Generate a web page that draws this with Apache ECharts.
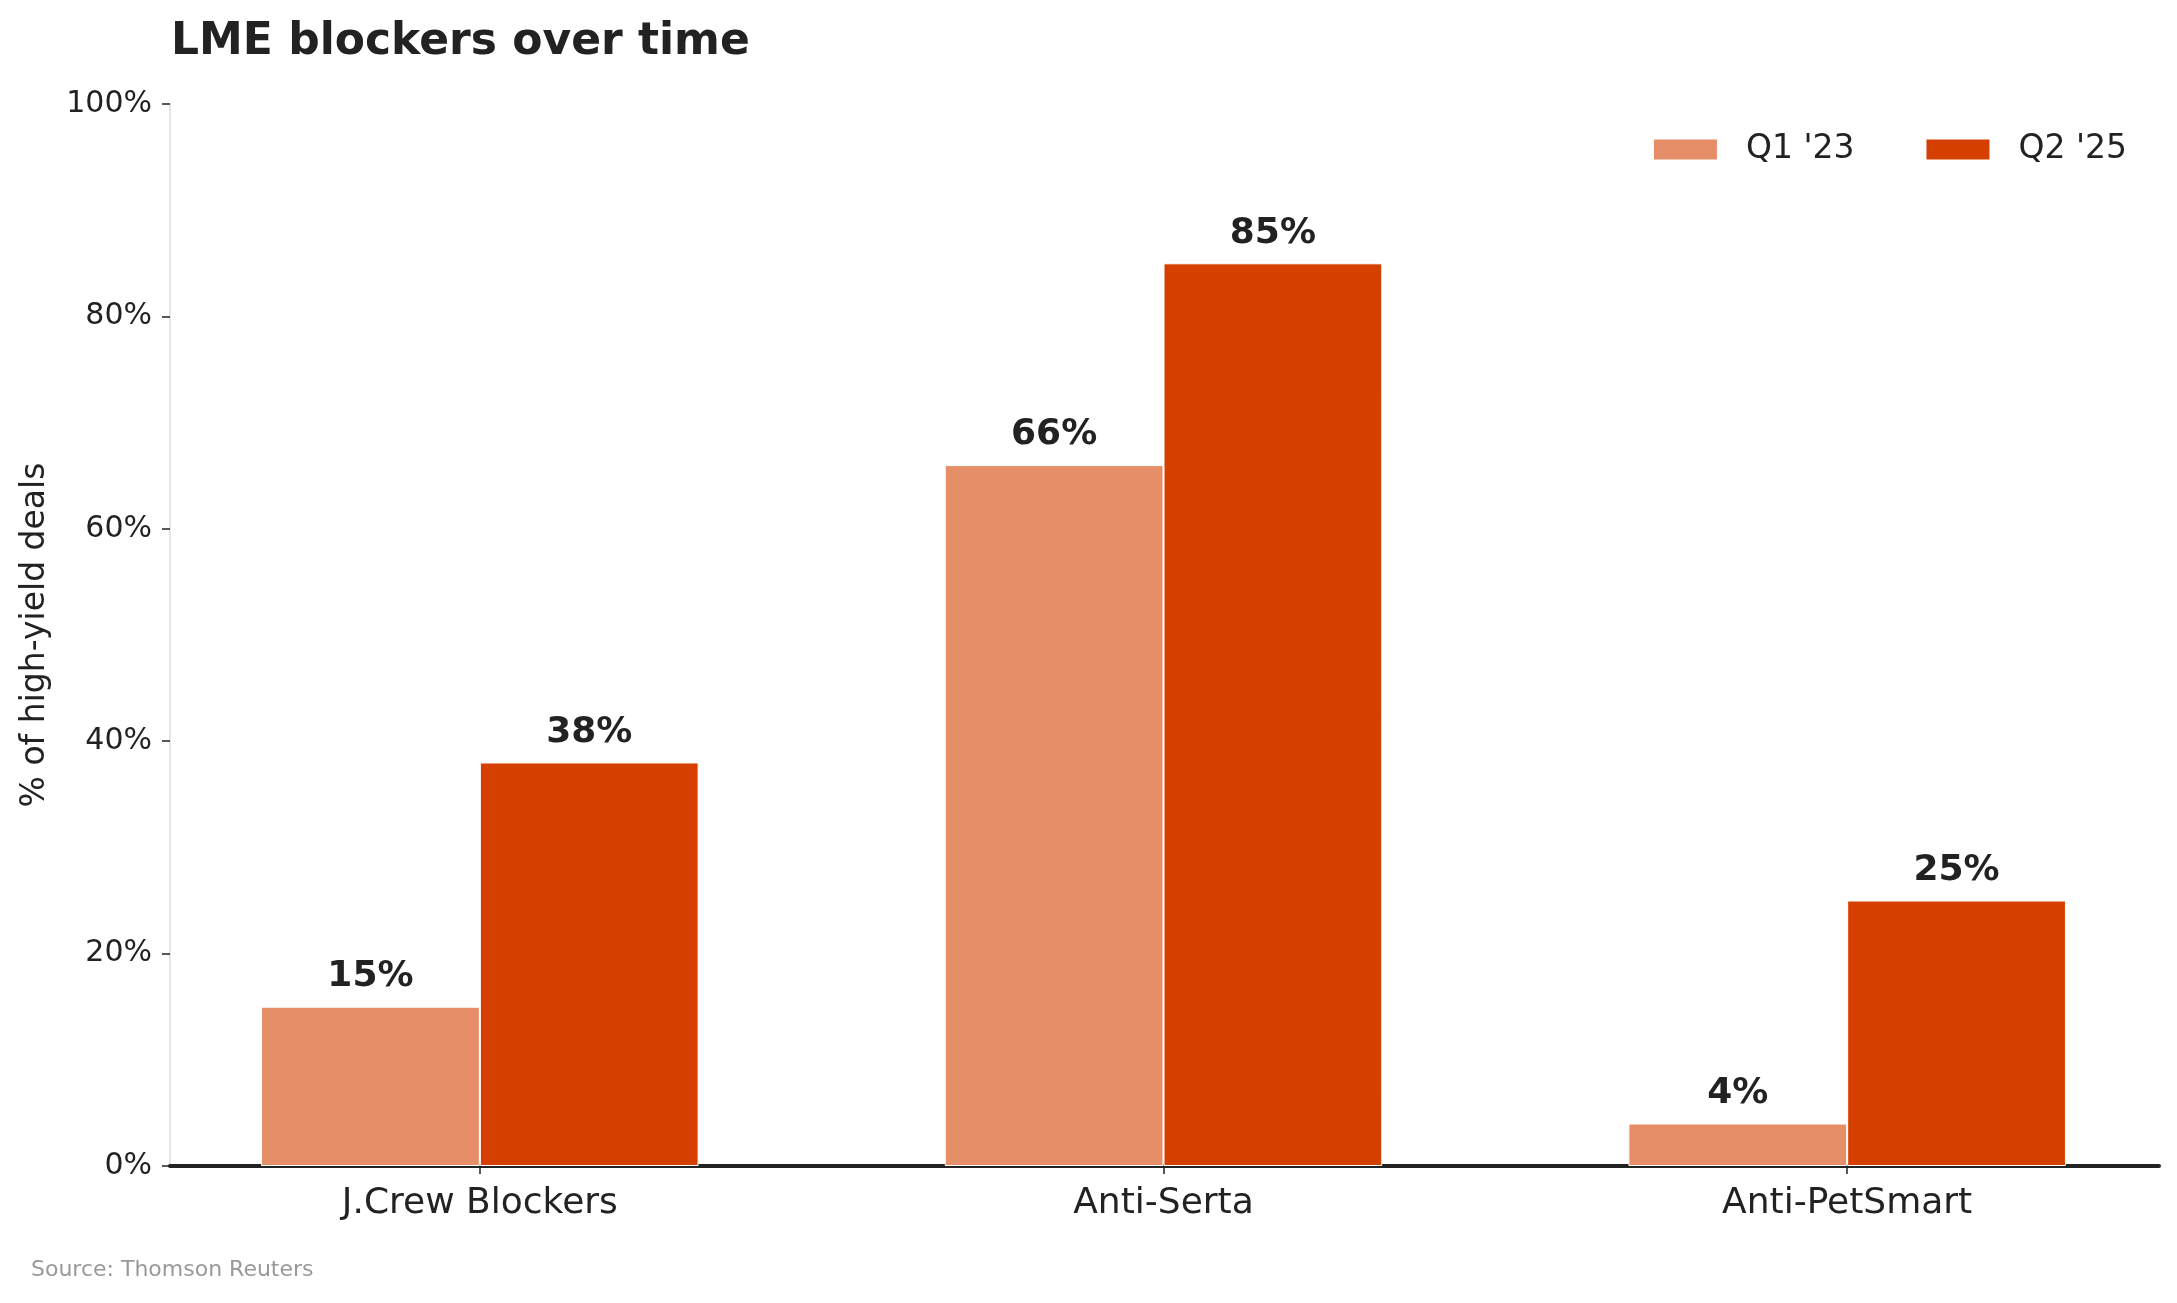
<!DOCTYPE html>
<html>
<head>
<meta charset="utf-8">
<script src="https://cdn.jsdelivr.net/npm/echarts@6/dist/echarts.min.js"></script>
<style>
  html, body { margin: 0; padding: 0; background: #fff; }
  #chart { width: 2177px; height: 1303px; }
</style>
</head>
<body>
<div id="chart"></div>
<script>
const categories = ['J.Crew Blockers', 'Anti-Serta', 'Anti-PetSmart']
const q1Values = [15, 66, 4]
const q2Values = [38, 85, 25]
const seriesNames = ["Q1 '23", "Q2 '25"]
const yTicks = [0, 20, 40, 60, 80, 100]

const font = 'DejaVu Sans'
const ink = '#222222'

const chart = echarts.init(document.getElementById('chart'))

// bars live in grid 0 (wider, so the category bands line up with the reference),
// the visible axes live in grid 1
const labelStyle = {
  show: true,
  position: 'top',
  distance: 12,
  formatter: '{c}%',
  fontFamily: font,
  fontSize: 36,
  fontWeight: 'bold',
  color: ink
}

const option = {
  backgroundColor: '#ffffff',
  animation: false,
  title: {
    text: 'LME blockers over time',
    left: 171,
    top: 21,
    padding: 0,
    textStyle: { fontFamily: font, fontSize: 44, fontWeight: 'bold', color: ink }
  },
  legend: {
    data: seriesNames,
    right: 45,
    top: 128,
    icon: 'rect',
    itemWidth: 65,
    itemHeight: 22,
    itemGap: 70,
    textStyle: { fontFamily: font, fontSize: 33, color: ink, padding: [0, 0, 0, 23] }
  },
  grid: [
    { left: 138, width: 2051, top: 104, bottom: 137, outerBoundsMode: 'none', containLabel: false },
    { left: 170, right: 18, top: 104, bottom: 137, outerBoundsMode: 'none', containLabel: false }
  ],
  xAxis: [
    {
      type: 'category',
      gridIndex: 0,
      data: categories,
      axisLine: { show: false },
      axisTick: { show: true, alignWithLabel: true, length: 8, lineStyle: { color: ink, width: 1.5 } },
      axisLabel: { fontFamily: font, fontSize: 36, color: ink, margin: 20 }
    },
    {
      type: 'value',
      gridIndex: 1,
      min: 0,
      max: 1,
      axisLine: { show: true, lineStyle: { color: ink, width: 4 } },
      axisTick: { show: false },
      axisLabel: { show: false },
      splitLine: { show: false }
    }
  ],
  yAxis: [
    {
      type: 'value',
      gridIndex: 0,
      min: yTicks[0],
      max: yTicks[yTicks.length - 1],
      show: false
    },
    {
      type: 'value',
      gridIndex: 1,
      min: yTicks[0],
      max: yTicks[yTicks.length - 1],
      interval: 20,
      name: '% of high-yield deals',
      nameLocation: 'middle',
      nameGap: 118,
      nameMoveOverlap: false,
      nameTextStyle: { fontFamily: font, fontSize: 33, color: ink },
      axisLine: { show: true, lineStyle: { color: '#dddddd', width: 1.5 } },
      axisTick: { show: true, length: 8, lineStyle: { color: ink, width: 1.5 } },
      axisLabel: { fontFamily: font, fontSize: 30, color: ink, margin: 18, formatter: '{value}%' },
      splitLine: { show: false }
    }
  ],
  series: [
    {
      name: seriesNames[0],
      type: 'bar',
      xAxisIndex: 0,
      yAxisIndex: 0,
      data: q1Values,
      barWidth: '32%',
      barGap: '0%',
      itemStyle: { color: '#E68E68', borderColor: '#ffffff', borderWidth: 1 },
      label: labelStyle
    },
    {
      name: seriesNames[1],
      type: 'bar',
      xAxisIndex: 0,
      yAxisIndex: 0,
      data: q2Values,
      barWidth: '32%',
      barGap: '0%',
      itemStyle: { color: '#D54000', borderColor: '#ffffff', borderWidth: 1 },
      label: labelStyle
    }
  ],
  graphic: [
    {
      type: 'text',
      left: 31,
      top: 1259,
      style: { text: 'Source: Thomson Reuters', fontFamily: font, fontSize: 22, fill: '#999999' }
    }
  ]
}

chart.setOption(option)
</script>
</body>
</html>
